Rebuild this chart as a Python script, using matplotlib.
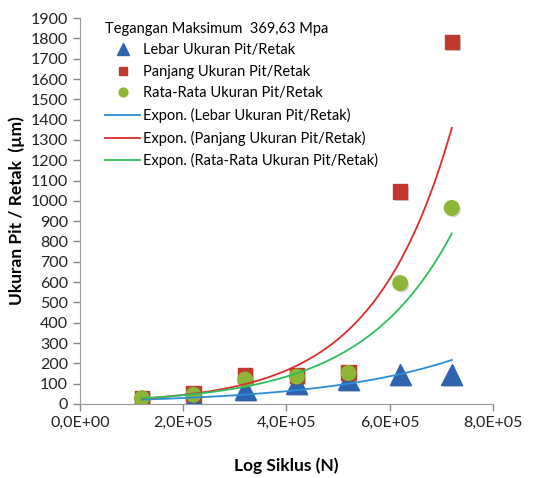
import matplotlib.pyplot as plt
import matplotlib.patheffects as pe
import numpy as np
from matplotlib.lines import Line2D

plt.rcParams['font.family'] = ['Lato', 'DejaVu Sans']

# siklus (N)
siklus = [1.2e5, 2.2e5, 3.2e5, 4.2e5, 5.2e5, 6.2e5, 7.2e5]
# ukuran pit/retak (um)
lebar = [15, 25, 70, 100, 118, 145, 145]
panjang = [30, 50, 140, 140, 155, 1045, 1783]
rata = [28, 45, 120, 135, 152, 595, 965]

title = "Tegangan Maksimum  369,63 Mpa"
names = ["Lebar Ukuran Pit/Retak", "Panjang Ukuran Pit/Retak", "Rata-Rata Ukuran Pit/Retak"]
x_ticks = [0, 2e5, 4e5, 6e5, 8e5]
x_labels = ["0,0E+00", "2,0E+05", "4,0E+05", "6,0E+05", "8,0E+05"]

marker_cols = ["#2E63B0", "#C0392F", "#8DB637"]
line_cols = ["#2C8ED8", "#DE2B2B", "#2DBE5C"]
markers = ["^", "s", "o"]
msizes = [15, 10.5, 10.5]

fig = plt.figure(figsize=(5.36, 4.78), dpi=100)
ax = fig.add_axes([0.149, 0.155, 0.771, 0.807])

series = [lebar, panjang, rata]
x = np.array(siklus)
shadow = [pe.SimplePatchShadow(offset=(1.2, -1.5), shadow_rgbFace="#555555", alpha=0.25), pe.Normal()]
handles = []
for ys, mc, m, ms in zip(series, marker_cols, markers, msizes):
    ax.plot(siklus, ys, linestyle="none", marker=m, ms=ms, color=mc, zorder=3,
            path_effects=shadow)
    handles.append(Line2D([], [], linestyle="none", marker=m, ms=ms * 0.6, color=mc))

# exponential trendline (like Excel)
xx = np.linspace(x[0], x[-1], 200)
line_handles = []
for ys, lc in zip(series, line_cols):
    b, a = np.polyfit(x, np.log(ys), 1)
    ax.plot(xx, np.exp(a + b * xx), color=lc, lw=1.3, zorder=4)
    line_handles.append(Line2D([], [], color=lc, lw=1.3))

labels = names + ["Expon. (%s)" % n for n in names]
leg = ax.legend(handles + line_handles, labels, title=title, loc="upper left",
                bbox_to_anchor=(0.03, 1.025), frameon=False, fontsize=10.5,
                title_fontsize=10.5, handlelength=2.4, handletextpad=0.2,
                labelspacing=0.52, alignment="left")
leg._legend_box.align = "left"

ax.set_xlim(0, 8e5)
ax.set_ylim(0, 1900)
ax.set_xticks(x_ticks)
ax.set_xticklabels(x_labels)
ax.set_yticks(np.arange(0, 2000, 100))
ax.tick_params(axis="both", colors="#888888", labelcolor="#222222", labelsize=11.5,
               length=5, width=1)
for s in ["top", "right"]:
    ax.spines[s].set_visible(False)
for s in ["left", "bottom"]:
    ax.spines[s].set_color("#999999")

ax.set_xlabel("Log Siklus (N)", fontsize=12.5, fontweight="bold", labelpad=20)
ax.set_ylabel("Ukuran Pit / Retak  (µm)", fontsize=12.5, fontweight="bold", labelpad=4)

fig.savefig("out.png", dpi=100)
